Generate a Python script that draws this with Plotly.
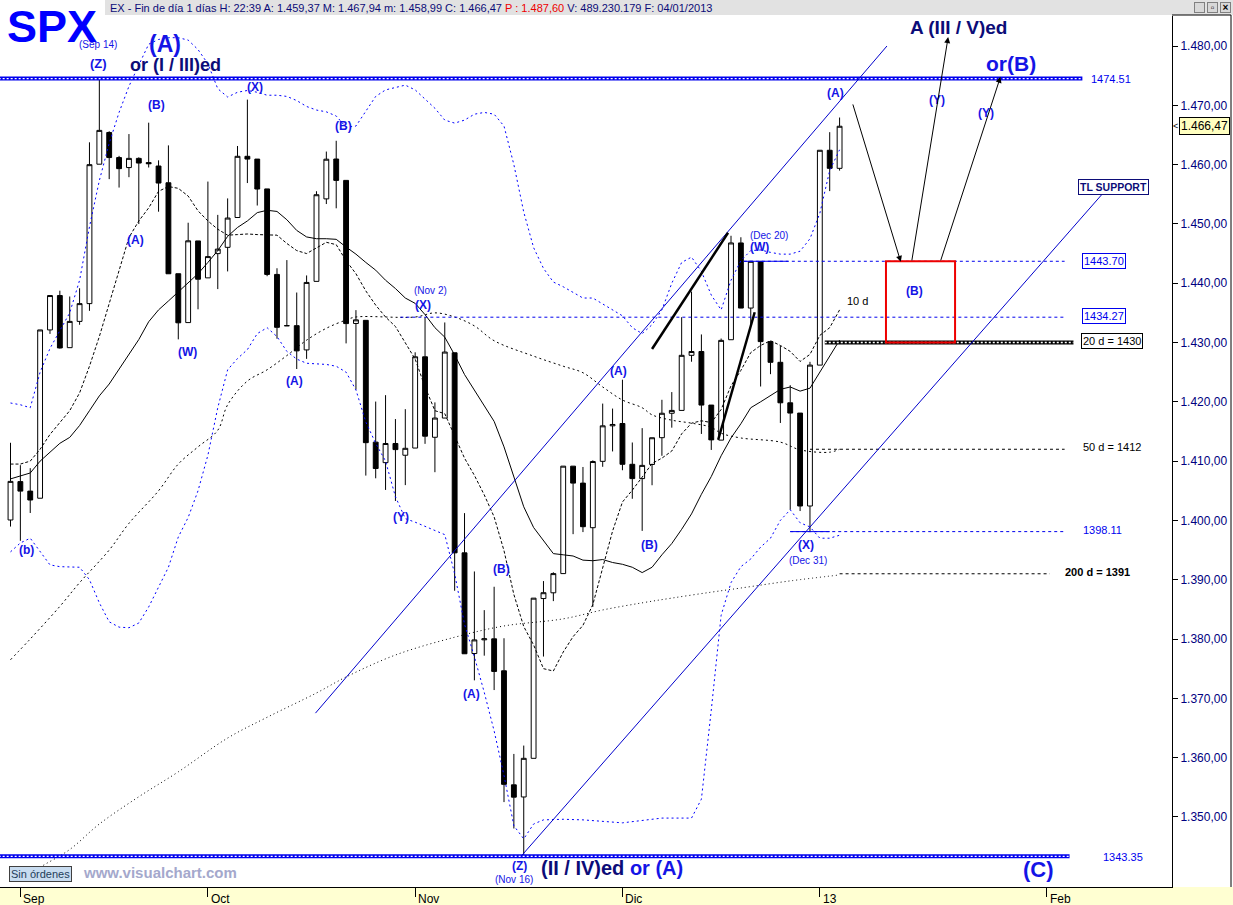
import plotly.graph_objects as go

# ---------------- DATA ----------------
dates = ["2012-08-31",
         "2012-09-04", "2012-09-05", "2012-09-06", "2012-09-07", "2012-09-10", "2012-09-11", "2012-09-12",
         "2012-09-13", "2012-09-14", "2012-09-17", "2012-09-18", "2012-09-19", "2012-09-20", "2012-09-21",
         "2012-09-24", "2012-09-25", "2012-09-26", "2012-09-27", "2012-09-28",
         "2012-10-01", "2012-10-02", "2012-10-03", "2012-10-04", "2012-10-05", "2012-10-08", "2012-10-09",
         "2012-10-10", "2012-10-11", "2012-10-12", "2012-10-15", "2012-10-16", "2012-10-17", "2012-10-18",
         "2012-10-19", "2012-10-22", "2012-10-23", "2012-10-24", "2012-10-25", "2012-10-26", "2012-10-31",
         "2012-11-01", "2012-11-02", "2012-11-05", "2012-11-06", "2012-11-07", "2012-11-08", "2012-11-09",
         "2012-11-12", "2012-11-13", "2012-11-14", "2012-11-15", "2012-11-16", "2012-11-19", "2012-11-20",
         "2012-11-21", "2012-11-23", "2012-11-26", "2012-11-27", "2012-11-28", "2012-11-29", "2012-11-30",
         "2012-12-03", "2012-12-04", "2012-12-05", "2012-12-06", "2012-12-07", "2012-12-10", "2012-12-11",
         "2012-12-12", "2012-12-13", "2012-12-14", "2012-12-17", "2012-12-18", "2012-12-19", "2012-12-20",
         "2012-12-21", "2012-12-24", "2012-12-26", "2012-12-27", "2012-12-28", "2012-12-31",
         "2013-01-02", "2013-01-03", "2013-01-04"]

opens = [1400.07, 1406.54, 1404.94, 1403.74, 1432.12, 1437.92, 1429.13, 1433.56, 1436.56, 1460.07,
         1465.42, 1461.19, 1459.50, 1461.05, 1460.34, 1459.76, 1456.94, 1441.60, 1433.36, 1447.13,
         1440.90, 1444.99, 1446.05, 1451.08, 1461.40, 1460.93, 1455.90, 1441.48, 1432.82, 1432.84,
         1428.75, 1440.31, 1454.22, 1460.94, 1457.34, 1433.21, 1433.74, 1413.20, 1409.74, 1412.97,
         1410.99, 1412.20, 1427.59, 1414.02, 1417.26, 1428.27, 1394.53, 1377.55, 1379.86, 1380.03,
         1374.64, 1355.41, 1353.36, 1359.88, 1386.82, 1387.79, 1391.03, 1409.15, 1406.29, 1398.77,
         1409.96, 1415.95, 1416.34, 1409.46, 1407.05, 1409.43, 1413.95, 1418.07, 1418.55, 1427.84,
         1428.48, 1419.45, 1413.54, 1430.47, 1446.79, 1435.81, 1443.67, 1430.15, 1426.66, 1419.83,
         1418.10, 1402.43, 1426.19, 1462.42, 1459.37]
highs = [1413.09, 1409.31, 1408.81, 1432.12, 1437.92, 1438.74, 1437.76, 1439.15, 1463.76, 1474.51,
         1465.63, 1461.47, 1465.15, 1461.23, 1467.07, 1460.72, 1463.24, 1441.60, 1450.20, 1447.13,
         1457.14, 1451.52, 1454.30, 1463.14, 1470.96, 1460.93, 1455.90, 1442.52, 1443.90, 1438.43,
         1441.31, 1455.51, 1462.20, 1464.02, 1457.34, 1435.46, 1433.74, 1420.04, 1421.12, 1417.09,
         1418.76, 1428.35, 1434.27, 1419.90, 1433.38, 1428.27, 1401.23, 1391.39, 1384.87, 1388.81,
         1380.13, 1360.62, 1362.03, 1386.89, 1389.77, 1391.25, 1409.16, 1409.15, 1409.01, 1410.13,
         1419.70, 1418.86, 1423.73, 1413.14, 1415.56, 1413.95, 1420.34, 1421.64, 1434.27, 1438.59,
         1431.36, 1419.45, 1430.67, 1448.00, 1447.75, 1443.70, 1443.67, 1430.15, 1429.42, 1422.80,
         1418.10, 1426.74, 1462.43, 1465.47, 1467.94]
lows = [1398.96, 1396.56, 1401.25, 1403.74, 1431.45, 1428.98, 1429.13, 1432.99, 1435.34, 1460.07,
        1457.55, 1456.13, 1457.88, 1449.98, 1459.51, 1452.06, 1441.59, 1430.53, 1433.36, 1435.60,
        1440.90, 1439.01, 1441.99, 1451.08, 1456.89, 1453.10, 1441.18, 1430.64, 1432.82, 1425.53,
        1427.24, 1440.31, 1453.35, 1452.63, 1429.85, 1422.06, 1407.56, 1407.10, 1405.14, 1403.28,
        1405.95, 1412.20, 1412.91, 1408.13, 1417.26, 1388.14, 1377.51, 1373.03, 1377.19, 1371.39,
        1352.50, 1348.05, 1343.35, 1359.88, 1377.04, 1386.39, 1391.03, 1397.68, 1398.03, 1385.43,
        1409.04, 1411.63, 1408.46, 1403.65, 1398.23, 1405.93, 1410.90, 1415.64, 1418.55, 1426.76,
        1414.58, 1411.88, 1413.54, 1430.47, 1435.80, 1432.82, 1422.58, 1424.66, 1416.43, 1401.80,
        1401.58, 1398.11, 1426.19, 1455.53, 1458.99]
closes = [1406.58, 1404.94, 1403.44, 1432.12, 1437.92, 1429.08, 1433.56, 1436.56, 1459.99, 1465.77,
          1461.19, 1459.32, 1461.05, 1460.26, 1460.15, 1456.89, 1441.59, 1433.32, 1447.15, 1440.67,
          1444.49, 1445.75, 1450.99, 1461.40, 1460.93, 1455.88, 1441.48, 1432.56, 1432.84, 1428.59,
          1440.13, 1454.92, 1460.91, 1457.34, 1433.19, 1433.82, 1413.11, 1408.75, 1412.97, 1411.94,
          1412.16, 1427.59, 1414.20, 1417.26, 1428.39, 1394.53, 1377.51, 1379.85, 1380.03, 1374.53,
          1355.49, 1353.33, 1359.88, 1386.89, 1387.81, 1391.03, 1409.15, 1406.29, 1398.94, 1409.93,
          1415.95, 1416.18, 1409.46, 1407.05, 1409.28, 1413.94, 1418.07, 1418.55, 1427.84, 1428.48,
          1419.45, 1413.58, 1430.36, 1446.79, 1435.81, 1443.69, 1430.15, 1426.66, 1419.83, 1418.10,
          1402.43, 1426.19, 1462.42, 1459.37, 1466.47]

# moving averages (one value per session)
ma10 = [1409.5, 1409.5, 1410.0, 1412.0, 1414.5, 1416.5, 1418.5, 1421.5, 1426.0, 1431.0,
        1436.5, 1441.9, 1447.7, 1450.5, 1452.7, 1455.5, 1456.3, 1456.0, 1454.7, 1452.2,
        1450.5, 1449.1, 1448.1, 1448.2, 1448.3, 1448.2, 1448.2, 1448.1, 1446.7, 1445.5,
        1445.0, 1445.9, 1446.9, 1446.5, 1443.8, 1441.6, 1438.7, 1436.3, 1434.3, 1432.7,
        1429.9, 1427.2, 1422.5, 1418.5, 1418.0, 1414.1, 1410.5, 1407.6, 1404.3, 1400.6,
        1394.9, 1387.5, 1382.1, 1379.0, 1375.0, 1374.6, 1377.8, 1380.4, 1382.3, 1385.8,
        1391.9, 1398.2, 1403.1, 1405.1, 1407.3, 1409.6, 1410.5, 1411.7, 1414.6, 1416.4,
        1416.8, 1416.5, 1418.7, 1422.7, 1425.3, 1428.3, 1429.5, 1430.3, 1429.5, 1428.5,
        1426.8, 1428.0, 1431.2, 1432.5, 1435.5]
ma20 = [1407.0, 1407.5, 1408.0, 1410.0, 1411.5, 1413.0, 1414.0, 1416.0, 1418.5, 1421.0,
        1423.0, 1425.5, 1428.0, 1430.5, 1433.5, 1435.5, 1437.0, 1438.5, 1440.0, 1441.6,
        1443.5, 1445.5, 1447.9, 1449.4, 1450.5, 1451.9, 1452.3, 1452.1, 1450.7, 1448.9,
        1447.8, 1447.5, 1447.5, 1447.4, 1446.1, 1444.9, 1443.5, 1442.2, 1440.5, 1439.1,
        1437.5, 1436.6, 1434.7, 1432.5, 1430.9, 1427.9, 1424.6, 1422.0, 1419.3, 1416.7,
        1412.4, 1407.4, 1402.3, 1398.8, 1396.5, 1394.4, 1394.2, 1394.0, 1393.3, 1393.2,
        1393.4, 1392.9, 1392.6, 1392.1, 1391.2, 1392.1, 1394.2, 1396.1, 1398.5, 1401.1,
        1404.4, 1407.4, 1410.9, 1413.9, 1416.3, 1419.0, 1420.0, 1421.0, 1422.1, 1422.5,
        1421.8, 1422.3, 1425.0, 1427.6, 1430.4]
ma50_idx = [0, 2, 5, 7, 10, 12, 15, 17, 19, 21, 22, 24, 26, 28, 30, 32, 34, 35, 41, 43, 45, 47, 49,
            53, 56, 58, 60, 62, 64, 65, 67, 69, 71, 72, 74, 78, 80, 83, 84]
ma50_val = [1376.5, 1380.0, 1385.5, 1389.5, 1395.0, 1399.5, 1405.0, 1409.5, 1412.4, 1415.2, 1419.5,
            1423.5, 1425.4, 1427.8, 1430.4, 1432.4, 1433.8, 1434.3, 1434.3, 1435.0, 1434.3, 1432.8,
            1430.3, 1427.7, 1426.0, 1424.9, 1422.5, 1420.3, 1419.0, 1417.8, 1416.9, 1416.4, 1415.7,
            1414.7, 1413.9, 1413.2, 1411.9, 1411.5, 1412.0]
ma200_idx = [1, 3, 6, 9, 13, 17, 22, 26, 31, 34, 39, 45, 50, 56, 60, 64, 67, 71, 74, 79, 84]
ma200_val = [1339.2, 1341.5, 1344.5, 1348.8, 1353.4, 1357.6, 1363.3, 1366.8, 1370.9, 1373.6, 1377.3,
             1380.3, 1382.2, 1383.4, 1384.9, 1386.1, 1386.9, 1387.9, 1388.6, 1389.8, 1390.8]
# Bollinger bands (blue dotted)
bb_up_idx = list(range(0, 85))
bb_up_val = [1419.8, 1419.5, 1419.0, 1425.0, 1429.0, 1432.0, 1435.0, 1440.5, 1449.5, 1457.3,
             1463.6, 1468.8, 1473.2, 1476.8, 1480.3, 1481.1, 1481.4, 1481.4, 1481.0, 1479.4,
             1477.0, 1472.8, 1471.4, 1472.2, 1472.5, 1472.2, 1471.7, 1471.7, 1471.5, 1470.8,
             1469.8, 1469.2, 1468.9, 1468.2, 1466.3, 1466.5, 1469.0, 1471.5, 1472.6, 1473.0,
             1473.4, 1472.6, 1471.0, 1469.5, 1467.5, 1467.0, 1467.5, 1468.5, 1468.8, 1468.5,
             1466.5, 1460.0, 1452.0, 1446.0, 1442.5, 1440.2, 1439.4, 1438.5, 1437.5, 1437.5,
             1436.5, 1435.6, 1434.5, 1432.5, 1431.5, 1433.0, 1435.5, 1440.0, 1443.5, 1444.4,
             1442.0, 1438.0, 1435.5, 1440.5, 1443.8, 1445.5, 1445.6, 1445.2, 1444.9, 1444.9,
             1445.4, 1447.5, 1451.8, 1459.0, 1462.5]
bb_lo_idx = [0, 1, 2, 3, 4, 5, 6, 7, 8, 9, 10, 11, 12, 13, 14, 15, 16, 17, 18, 19, 20, 21, 22, 23,
             24, 25, 26, 27, 28, 29, 30, 31, 32, 33, 34, 35, 36, 37, 38, 39, 40, 41, 42, 43, 44, 45,
             46, 47, 48, 49, 50, 51, 52, 53, 54, 56, 58, 62, 66, 69, 70, 71, 72, 73, 74, 75, 76, 77,
             78, 79, 80, 81, 82, 83, 84]
bb_lo_val = [1394.7, 1396.2, 1397.0, 1394.7, 1392.5, 1392.2, 1392.1, 1392.1, 1390.0, 1386.1,
             1382.9, 1382.0, 1381.9, 1382.7, 1385.4, 1388.8, 1392.1, 1397.2, 1400.5, 1405.0,
             1411.0, 1419.0, 1425.4, 1427.3, 1428.8, 1431.5, 1432.5, 1431.0, 1428.5, 1427.2,
             1426.5, 1426.4, 1426.3, 1426.0, 1425.0, 1422.0, 1416.6, 1413.0, 1410.0, 1404.0,
             1400.3, 1399.7, 1399.0, 1398.4, 1397.6, 1391.0, 1382.5, 1377.0, 1371.0, 1364.5,
             1357.0, 1348.5, 1346.3, 1348.8, 1349.5, 1349.6, 1349.5, 1349.0, 1349.8, 1349.8,
             1353.0, 1368.0, 1384.0, 1389.5, 1392.2, 1393.5, 1395.5, 1397.0, 1400.0, 1401.8,
             1399.6, 1398.9, 1397.0, 1397.0, 1397.5]

month_tick_idx = [1, 20, 41, 62, 82, 105]
month_tick_txt = ["Sep", "Oct", "Nov", "Dic", "13", "Feb"]
price_ticks = [1350, 1360, 1370, 1380, 1390, 1400, 1410, 1420, 1430, 1440, 1450, 1460, 1470, 1480]

# horizontal levels: value, start idx, end idx
levels_blue_dash = [(1443.70, 74.3, 106.8), (1434.27, 39.5, 106.8), (1398.11, 79.0, 106.8)]
levels_black_dash = [(1412.0, 81.0, 106.8), (1391.0, 84.0, 105.3)]
levels_double_blue = [(1474.51, -1.2, 108.6), (1343.35, -1.2, 107.3)]
levels_double_black = [(1430.0, 82.5, 107.7)]
# trend lines: (i0, v0, i1, v1)
channel_lines = [(30.9, 1367.5, 88.8, 1480.0), (51.8, 1343.5, 110.7, 1455.2)]
wedge_lines = [(65.0, 1428.9, 72.7, 1448.5), (71.7, 1413.6, 75.4, 1435.1)]
target_box = (88.7, 1430.0, 95.7, 1443.7)
arrows = [(85.3, 1470.4, 90.2, 1443.6), (91.3, 1443.6, 95.0, 1481.5), (94.2, 1443.6, 100.3, 1474.8)]

# wave labels: text, idx, value, size, bold, colour-key
wave_labels = [
    ("(b)", 1.67, 1395.0, 12, True, "b"),
    ("(Z)", 8.87, 1477.0, 13, True, "b"),
    ("(Sep 14)", 8.87, 1480.3, 10, False, "b"),
    ("(A)", 15.65, 1480.3, 23, True, "b"),
    ("or (I / III)ed", 16.67, 1476.8, 18, True, "n"),
    ("(B)", 14.84, 1470.0, 12, True, "b"),
    ("(A)", 12.7, 1447.3, 12, True, "b"),
    ("(W)", 17.9, 1428.4, 12, True, "b"),
    ("(X)", 24.8, 1473.1, 12, True, "b"),
    ("(A)", 28.8, 1423.5, 12, True, "b"),
    ("(B)", 33.7, 1466.5, 12, True, "b"),
    ("(Nov 2)", 42.6, 1438.7, 10, False, "b"),
    ("(X)", 41.8, 1436.3, 12, True, "b"),
    ("(Y)", 39.6, 1400.6, 12, True, "b"),
    ("(A)", 46.7, 1370.7, 12, True, "b"),
    ("(B)", 49.7, 1391.8, 12, True, "b"),
    ("(Z)", 51.6, 1341.7, 12, True, "b"),
    ("(Nov 16)", 51.0, 1339.5, 10, False, "b"),
    ("(A)", 61.6, 1425.2, 12, True, "b"),
    ("(B)", 64.7, 1395.9, 12, True, "b"),
    ("(Dec 20)", 76.85, 1448.1, 10, False, "b"),
    ("(W)", 75.9, 1446.1, 12, True, "b"),
    ("(X)", 80.6, 1395.9, 12, True, "b"),
    ("(Dec 31)", 80.8, 1393.3, 10, False, "b"),
    ("(A)", 83.6, 1472.1, 12, True, "b"),
    ("A (III / V)ed", 96.0, 1483.2, 19, True, "n"),
    ("or(B)", 101.4, 1477.0, 21, True, "b"),
    ("(Y)", 93.9, 1470.9, 12, True, "b"),
    ("(Y)", 98.8, 1468.7, 12, True, "b"),
    ("(B)", 91.6, 1438.7, 12, True, "b"),
    ("(C)", 104.2, 1341.2, 22, True, "b"),
]

# ---------------- LAYOUT CONSTANTS ----------------
W, H = 1233, 905
ML, MR, MT, MB = 0, 61, 16, 18
PW, PH = W - ML - MR, H - MT - MB
X_RANGE = [-1.064, 117.68]
Y_RANGE = [1338.18, 1485.06]
BLUE = "#1414e6"
NAVY = "#0c0c78"
FONT = "Arial, Liberation Sans, sans-serif"
COLS = {"b": BLUE, "n": NAVY}


def pxp(x):  # pixel -> paper (x)
    return (x - ML) / PW


def pyp(y):  # pixel from top -> paper (y)
    return (MT + PH - y) / PH


def fmt_price(v):
    s = f"{v:,.2f}"
    return s.replace(",", "#").replace(".", ",").replace("#", ".")


idx = list(range(len(dates)))
fig = go.Figure()

fig.add_trace(go.Candlestick(
    x=idx, open=opens, high=highs, low=lows, close=closes,
    increasing=dict(fillcolor="white", line=dict(color="black", width=1)),
    decreasing=dict(fillcolor="black", line=dict(color="black", width=1)),
    whiskerwidth=0, hoverinfo="skip", showlegend=False))

fig.add_trace(go.Scatter(x=bb_up_idx, y=bb_up_val, mode="lines", line=dict(color="#0000ff", width=1, dash="2px,3px"),
                         hoverinfo="skip", showlegend=False))
fig.add_trace(go.Scatter(x=bb_lo_idx, y=bb_lo_val, mode="lines", line=dict(color="#0000ff", width=1, dash="2px,3px"),
                         hoverinfo="skip", showlegend=False))
fig.add_trace(go.Scatter(x=ma200_idx, y=ma200_val, mode="lines", line=dict(color="black", width=1, dash="1px,3px"),
                         line_shape="spline", hoverinfo="skip", showlegend=False))
fig.add_trace(go.Scatter(x=ma50_idx, y=ma50_val, mode="lines", line=dict(color="black", width=1, dash="2px,3px"),
                         line_shape="spline", hoverinfo="skip", showlegend=False))
fig.add_trace(go.Scatter(x=idx, y=ma20, mode="lines", line=dict(color="black", width=1),
                         hoverinfo="skip", showlegend=False))
fig.add_trace(go.Scatter(x=idx, y=ma10, mode="lines", line=dict(color="black", width=1, dash="3px,2px"),
                         hoverinfo="skip", showlegend=False))

shapes = []
# header bar and bottom band
shapes.append(dict(type="rect", xref="paper", yref="paper", x0=pxp(105), x1=pxp(W), y0=pyp(15), y1=pyp(0),
                   fillcolor="#e2e2e2", line=dict(width=0), layer="below"))
shapes.append(dict(type="rect", xref="paper", yref="paper", x0=pxp(0), x1=pxp(W), y0=pyp(H), y1=pyp(887),
                   fillcolor="#ffffd2", line=dict(width=0), layer="below"))
shapes.append(dict(type="line", xref="paper", yref="paper", x0=pxp(1231), x1=pxp(1231), y0=pyp(887), y1=pyp(15),
                   line=dict(color="black", width=1)))
shapes.append(dict(type="line", xref="paper", yref="paper", x0=pxp(1172), x1=pxp(1231), y0=pyp(15), y1=pyp(15),
                   line=dict(color="black", width=1)))

for v, a, b in levels_double_blue:
    shapes.append(dict(type="line", xref="x", yref="y", x0=a, x1=b, y0=v, y1=v, line=dict(color="#0000ee", width=4)))
    shapes.append(dict(type="line", xref="x", yref="y", x0=a, x1=b, y0=v, y1=v,
                       line=dict(color="white", width=1.3, dash="2px,2px")))
for v, a, b in levels_double_black:
    shapes.append(dict(type="line", xref="x", yref="y", x0=a, x1=b, y0=v, y1=v, line=dict(color="black", width=4)))
    shapes.append(dict(type="line", xref="x", yref="y", x0=a, x1=b, y0=v, y1=v,
                       line=dict(color="white", width=1.3, dash="2px,2px")))
for v, a, b in levels_blue_dash:
    shapes.append(dict(type="line", xref="x", yref="y", x0=a, x1=b, y0=v, y1=v,
                       line=dict(color="#0000ee", width=1, dash="3px,3px")))
for v, a, b in levels_black_dash:
    shapes.append(dict(type="line", xref="x", yref="y", x0=a, x1=b, y0=v, y1=v,
                       line=dict(color="black", width=1, dash="3px,3px")))
# short solid level stubs
shapes.append(dict(type="line", xref="x", yref="y", x0=74.3, x1=78.8, y0=1443.70, y1=1443.70,
                   line=dict(color="#0000ee", width=1)))
shapes.append(dict(type="line", xref="x", yref="y", x0=79.0, x1=83.0, y0=1398.11, y1=1398.11,
                   line=dict(color="#0000ee", width=1)))
for i0, v0, i1, v1 in channel_lines:
    shapes.append(dict(type="line", xref="x", yref="y", x0=i0, x1=i1, y0=v0, y1=v1,
                       line=dict(color="#0000cc", width=1)))
for i0, v0, i1, v1 in wedge_lines:
    shapes.append(dict(type="line", xref="x", yref="y", x0=i0, x1=i1, y0=v0, y1=v1,
                       line=dict(color="black", width=2.5)))
shapes.append(dict(type="rect", xref="x", yref="y", x0=target_box[0], x1=target_box[2], y0=target_box[1],
                   y1=target_box[3], line=dict(color="#ee0000", width=2)))

ann = []


def label(text, x, y, size, color, bold=False, xref="x", yref="y", **kw):
    t = f"<b>{text}</b>" if bold else text
    d = dict(text=t, x=x, y=y, xref=xref, yref=yref, showarrow=False, xanchor="center", yanchor="middle",
             font=dict(family=FONT, size=size, color=color))
    d.update(kw)
    ann.append(d)


for text, i, v, size, bold, ck in wave_labels:
    label(text, i, v, size, COLS[ck], bold)

label(f"<span style='color:{NAVY}'>(II / IV)ed</span> or (A)", 60.9, 1341.4, 20, BLUE, True)

# right-side level labels
box = dict(bgcolor="white", borderwidth=1, borderpad=1)
label("1443.70", 110.8, 1443.70, 11, "#0000ee", bordercolor="#0000ee", **box)
label("1434.27", 110.8, 1434.5, 11, "#0000ee", bordercolor="#0000ee", **box)
label("20 d = 1430", 111.6, 1430.2, 11, "black", bordercolor="black", **box)
label("TL SUPPORT", 111.8, 1456.2, 10.5, NAVY, True, bordercolor=NAVY, **box)
label("50 d = 1412", 111.6, 1412.4, 11, "black")
label("1398.11", 110.6, 1398.4, 11, "#0000ee")
label("200 d = 1391", 110.1, 1391.3, 11, "black", True)
label("1474.51", 111.5, 1474.4, 11, "#0000ee")
label("1343.35", 112.7, 1343.2, 11, "#0000ee")
label("10 d", 85.8, 1437.0, 11, "black")

for i0, v0, i1, v1 in arrows:
    ann.append(dict(x=i1, y=v1, ax=i0, ay=v0, xref="x", yref="y", axref="x", ayref="y", text="",
                    showarrow=True, arrowhead=2, arrowsize=1.2, arrowwidth=1, arrowcolor="black"))

# title / header
label("SPX", pxp(52), pyp(0), 45, "#0000ff", True, xref="paper", yref="paper", yanchor="top", borderpad=0)
header = ("EX - Fin de día 1 días H: 22:39 A: 1.459,37 M: 1.467,94 m: 1.458,99 C: 1.466,47 "
          "<span style='color:#ee0000'>P : 1.487,60</span> V: 489.230.179 F: 04/01/2013")
label(header, pxp(108), pyp(8), 11, NAVY, xref="paper", yref="paper", xanchor="left")
for k, g in enumerate(["_", "▫", "×"]):
    label(g, pxp(1199 + 13 * k), pyp(7), 10, "black", True, xref="paper", yref="paper",
          bgcolor="#d8d8d8", bordercolor="#808080", borderwidth=1, borderpad=0, width=9, height=9)

# last price marker
label("1.466,47", pxp(1179), closes[-1], 12, "black", xref="paper", yref="y", xanchor="left",
      bgcolor="#ffffc0", bordercolor="black", borderwidth=1, borderpad=1)
label("<", pxp(1175), closes[-1], 9, "black", xref="paper", yref="y")

# footer
label("Sin órdenes", pxp(40), pyp(874), 11, "#1e3c5a", xref="paper", yref="paper",
      bgcolor="#c8dcf0", bordercolor="#404040", borderwidth=1, borderpad=1)
label("www.visualchart.com", pxp(160), pyp(872), 15, "#a4a8cc", True, xref="paper", yref="paper")

for p, t in zip(month_tick_idx, month_tick_txt):
    label(t, p, pyp(899), 12, "black", xref="x", yref="paper", xanchor="left", xshift=1)

fig.update_layout(
    width=W, height=H, margin=dict(l=ML, r=MR, t=MT, b=MB, pad=0),
    paper_bgcolor="white", plot_bgcolor="white",
    showlegend=False, hovermode=False, dragmode=False,
    shapes=shapes, annotations=ann,
    xaxis=dict(range=X_RANGE, showgrid=False, zeroline=False, showline=True, linecolor="black", linewidth=1,
               ticks="outside", ticklen=9, tickcolor="black", tickvals=month_tick_idx, showticklabels=False,
               rangeslider=dict(visible=False), fixedrange=True),
    yaxis=dict(range=Y_RANGE, side="right", showgrid=False, zeroline=False, showline=True, linecolor="black",
               linewidth=1, ticks="outside", ticklen=5, tickcolor="black", tickvals=price_ticks,
               ticktext=[fmt_price(v) for v in price_ticks],
               tickfont=dict(family=FONT, size=12, color="#000080"), fixedrange=True),
)

fig.write_html("out.html", config={"displayModeBar": False},
               post_script="document.body.style.margin='0px';")
